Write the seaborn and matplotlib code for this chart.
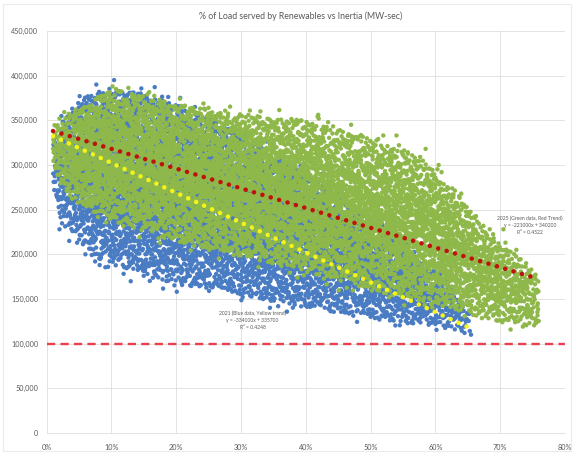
import numpy as np
import pandas as pd
import matplotlib
matplotlib.use("Agg")
import matplotlib.pyplot as plt
from matplotlib.ticker import PercentFormatter, FuncFormatter
from matplotlib.patches import Rectangle
import seaborn as sns

# ---- chart data -------------------------------------------------------
title = "% of Load served by Renewables vs Inertia (MW-sec)"

# 2021 cloud (blue): renewable share knots with lower / upper inertia bounds
blue_share = [0.010, 0.025, 0.050, 0.080, 0.120, 0.160, 0.210, 0.290, 0.330, 0.440, 0.550, 0.620, 0.655]
blue_low   = [262000, 232000, 215000, 195000, 184000, 174000, 166000, 157000, 149000, 136000, 123000, 117000, 110000]
blue_high  = [332000, 352000, 372000, 384000, 384000, 378000, 365000, 338000, 322000, 275000, 215000, 170000, 135000]
blue_weight = [0.5, 0.8, 1.0, 1.1, 1.1, 1.1, 1.1, 1.1, 1.1, 1.1, 1.0, 0.8, 0.5]
blue_count = 7000

# isolated 2021 hours lying outside the main cloud
blue_out_share   = [0.020, 0.035, 0.060, 0.075, 0.082, 0.095, 0.150, 0.185, 0.225, 0.245, 0.270,
                    0.300, 0.345, 0.380, 0.410, 0.460, 0.500, 0.530, 0.600, 0.630, 0.645, 0.655]
blue_out_inertia = [228000, 215000, 200000, 192000, 188000, 186000, 176000, 170000, 168000, 176000, 163000,
                    156000, 150000, 149000, 146000, 135000, 130000, 126000, 122000, 116000, 112000, 110000]

# 2025 cloud (green)
green_share = [0.010, 0.030, 0.060, 0.100, 0.150, 0.200, 0.300, 0.400, 0.500, 0.570, 0.630, 0.680, 0.720, 0.760]
green_low   = [295000, 268000, 252000, 238000, 226000, 214000, 198000, 180000, 160000, 148000, 138000, 126000, 120000, 116000]
green_high  = [345000, 356000, 368000, 385000, 378000, 368000, 357000, 350000, 330000, 312000, 272000, 228000, 202000, 180000]
green_weight = [0.6, 0.8, 1.0, 1.0, 1.0, 1.0, 1.0, 0.95, 0.9, 0.9, 0.85, 0.8, 0.7, 0.5]
green_count = 9000

# isolated 2025 hours lying outside the main cloud
green_out_share   = [0.020, 0.045, 0.250, 0.330, 0.420, 0.470, 0.540, 0.585, 0.605, 0.640, 0.660,
                     0.690, 0.705, 0.725, 0.740, 0.755]
green_out_inertia = [352000, 362000, 364000, 360000, 352000, 345000, 333000, 318000, 300000, 268000, 242000,
                     218000, 228000, 205000, 190000, 172000]

# linear trends: slope, intercept, R², x-range
blue_trend  = dict(slope=-334000, intercept=335700, r2=0.4248, x0=0.010, x1=0.655)
green_trend = dict(slope=-221000, intercept=340200, r2=0.4522, x0=0.010, x1=0.755)
blue_label  = "2021 (Blue data, Yellow trend)"
green_label = "2025 (Green data, Red Trend)"

min_inertia = 100000

x_ticks = [0.0, 0.1, 0.2, 0.3, 0.4, 0.5, 0.6, 0.7, 0.8]
y_ticks = [0, 50000, 100000, 150000, 200000, 250000, 300000, 350000, 400000, 450000]

# ---- colours ----------------------------------------------------------
BLUE = "#4a7cc4"
GREEN = "#8fb84a"
RED_TREND = "#c0120c"
YELLOW_TREND = "#f4f41a"
RED_LIMIT = "#e8404f"
GRID = "#dedede"
TEXT = "#595959"


def halton(n, base):
    """Deterministic low-discrepancy sequence in [0, 1)."""
    seq = np.zeros(n)
    for i in range(n):
        f, r, k = 1.0, 0.0, i + 1
        while k > 0:
            f /= base
            r += f * (k % base)
            k //= base
        seq[i] = r
    return seq


def fill_band(share, low, high, weight, n, bases, peaked):
    """Spread n points through the band between the low and high bounds."""
    share, low, high, weight = map(np.asarray, (share, low, high, weight))
    grid = np.linspace(share[0], share[-1], 800)
    dens = np.interp(grid, share, weight) * (np.interp(grid, share, high) - np.interp(grid, share, low))
    cdf = np.concatenate([[0], np.cumsum((dens[1:] + dens[:-1]) / 2)])
    cdf /= cdf[-1]
    u1, u2, u3, u4 = (halton(n, b) for b in bases)
    xs = np.interp(u1, cdf, grid)
    frac = np.where(u4 < peaked, (u2 + u3) / 2, u2)
    # a thin fringe of hours just past the band edges
    frac = np.where(u4 > 0.94, -0.06 + 1.12 * u2, frac)
    lo = np.interp(xs, share, low)
    hi = np.interp(xs, share, high)
    return xs, lo + frac * (hi - lo)


bx, by = fill_band(blue_share, blue_low, blue_high, blue_weight, blue_count, (2, 3, 5, 7), 0.45)
gx, gy = fill_band(green_share, green_low, green_high, green_weight, green_count, (3, 2, 7, 5), 0.55)

blue_x = np.concatenate([bx, blue_out_share])
blue_y = np.concatenate([by, blue_out_inertia])
green_x = np.concatenate([gx, green_out_share])
green_y = np.concatenate([gy, green_out_inertia])

points = pd.DataFrame({
    "share": np.concatenate([blue_x, green_x]),
    "inertia": np.concatenate([blue_y, green_y]),
    "year": ["2021"] * len(blue_x) + ["2025"] * len(green_x),
})

# ---- figure -----------------------------------------------------------
sns.set_theme(style="white")
plt.rcParams["font.family"] = ["Lato", "DejaVu Sans"]

fig = plt.figure(figsize=(5.73, 4.53), dpi=100)
ax = fig.add_axes([0.0812, 0.0442, 0.9048, 0.8874])

sns.scatterplot(data=points, x="share", y="inertia", hue="year",
                palette={"2021": BLUE, "2025": GREEN}, s=10, linewidth=0,
                marker="o", legend=False, ax=ax, zorder=2)

# trend lines drawn from the stated equations
for trend, color in ((green_trend, RED_TREND), (blue_trend, YELLOW_TREND)):
    xs = np.array([trend["x0"], trend["x1"]])
    ys = trend["slope"] * xs + trend["intercept"]
    ax.plot(xs, ys, color=color, lw=3.3, linestyle=(0, (0.01, 1.9)),
            dash_capstyle="round", zorder=4)

ax.axhline(min_inertia, color=RED_LIMIT, lw=1.7, linestyle=(0, (3.5, 2.2)), zorder=4)


def trend_text(label, trend):
    sign = "+" if trend["intercept"] >= 0 else "-"
    return (f"{label}\ny = {trend['slope']:.0f}x {sign} {abs(trend['intercept']):.0f}\n"
            f"R² = {trend['r2']:.4f}")


ax.text(0.746, 232000, trend_text(green_label, green_trend), ha="center", va="center",
        fontsize=3.6, color=TEXT, linespacing=1.5, zorder=5)
ax.text(0.318, 126000, trend_text(blue_label, blue_trend), ha="center", va="center",
        fontsize=3.6, color=TEXT, linespacing=1.5, zorder=5)

ax.set_xlim(0, 0.8)
ax.set_ylim(0, 450000)
ax.set_xticks(x_ticks)
ax.set_yticks(y_ticks)
ax.xaxis.set_major_formatter(PercentFormatter(1.0, decimals=0))
ax.yaxis.set_major_formatter(FuncFormatter(lambda v, _: f"{v:,.0f}"))
ax.tick_params(axis="both", length=0, labelsize=5.2, labelcolor=TEXT)
ax.tick_params(axis="y", pad=6)
ax.tick_params(axis="x", pad=8)
ax.set_xlabel("")
ax.set_ylabel("")
ax.grid(True, color=GRID, lw=0.6, zorder=0)
ax.set_axisbelow(True)
for side in ("top", "right", "left"):
    ax.spines[side].set_visible(False)
ax.spines["bottom"].set_color(GRID)
ax.spines["bottom"].set_linewidth(0.6)

fig.text(0.524, 0.965, title, ha="center", va="center", fontsize=6.3, color=TEXT)
fig.patches.append(Rectangle((0.006, 0.004), 0.99, 0.988, transform=fig.transFigure,
                             fill=False, edgecolor="#ececec", lw=0.8))

fig.savefig("out.png", dpi=100, facecolor="white")
